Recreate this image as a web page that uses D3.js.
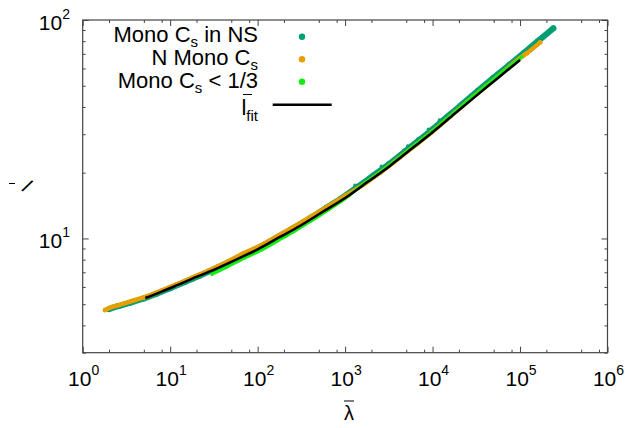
<!DOCTYPE html>
<html>
<head>
<meta charset="utf-8">
<script src="https://cdn.jsdelivr.net/npm/d3@7"></script>
<style>
  body { margin: 0; background: #fff; }
  text { font-family: "Liberation Sans", Arial, sans-serif; fill: #000; }
</style>
</head>
<body>
<svg width="628" height="428"></svg>
<script>
// values: [lambda, l]
const monoNS = [
  [2.0, 4.75], [2.6, 4.91], [3.5, 5.08], [5, 5.31], [7, 5.59], [10, 5.92],
  [15, 6.34], [22, 6.77], [35, 7.36], [50, 7.89], [75, 8.53], [110, 9.21],
  [170, 10.16], [260, 11.19], [400, 12.41], [600, 13.75], [900, 15.24],
  [1400, 17.27], [2100, 19.41], [3200, 21.97], [4800, 25.0], [7000, 28.2],
  [10000, 31.6], [15000, 36.3], [22000, 41.3], [33000, 47.4], [50000, 54.5],
  [75000, 62.2], [110000, 70.6], [160000, 80.0], [240000, 91.6]
];
const monoNSOutliers = [[1300, 17.5], [2600, 21.4], [4300, 23.4], [5200, 26.5], [9000, 31.6], [12000, 34.8]];
const nMono = [
  [1.8, 4.7], [2.1, 4.84], [2.5, 4.94], [3, 5.05], [4, 5.23], [5.5, 5.45],
  [8, 5.78], [12, 6.18], [18, 6.63], [28, 7.15], [45, 7.82], [70, 8.57],
  [110, 9.32], [170, 10.28], [260, 11.32], [400, 12.56], [650, 14.1], [1000, 15.67],
  [1600, 17.57], [2500, 19.97], [4000, 23.1], [6500, 26.9], [10000, 30.9],
  [16000, 36.3], [25000, 42.3], [40000, 49.5], [65000, 58.1], [100000, 67.0],
  [120000, 70.5], [170000, 79]
];
const monoLow = [
  [30, 6.85], [45, 7.41], [70, 8.11], [110, 8.83], [170, 9.75], [260, 10.75],
  [400, 11.95], [650, 13.55], [1000, 15.2], [1600, 17.66], [2500, 20.07],
  [4000, 23.2], [6500, 27.1], [10000, 31.1], [16000, 36.5], [25000, 42.5],
  [40000, 49.8], [65000, 58.4], [105000, 67.8]
];
const fit = [
  [5.2, 5.34], [8, 5.71], [12, 6.11], [20, 6.67], [35, 7.31], [60, 8.09],
  [100, 8.91], [180, 10.16], [300, 11.37], [550, 13.21], [1000, 15.31],
  [1800, 18.12], [3200, 21.37], [6000, 26.06], [10000, 30.61], [18000, 37.3],
  [32000, 45.2], [56000, 54.3], [100000, 65.6]
];
const xMajor = [1, 10, 100, 1000, 10000, 100000, 1000000];
const xMinorMult = [2, 5, 8];
const yMajor = [10, 100];
const yMinor = [3, 4, 5, 6, 7, 8, 9, 20, 30, 40, 50, 60, 70, 80, 90];

const colors = { ns: "#009e73", n: "#e69f00", low: "#14ec14" };

const width = 628;
const height = 428;
const margin = { top: 20, right: 20.5, bottom: 75.3, left: 82.7 };

const svg = d3.select("svg");
const x = d3.scaleLog().domain([1, 1e6]).range([margin.left, width - margin.right]);
const y = d3.scaleLog().domain([3, 100]).range([height - margin.bottom, margin.top]);

const xMinor = [];
xMajor.slice(0, -1).forEach((d) => xMinorMult.forEach((m) => xMinor.push(d * m)));

// ticks, pointing inward on all four sides
function ticks(axis, values, size, tr) {
  svg.append("g")
    .attr("transform", tr)
    .call(axis.tickValues(values).tickSizeInner(size).tickSizeOuter(0).tickFormat(""))
    .call((g) => g.select(".domain").remove())
    .call((g) => g.selectAll("line").attr("stroke", "#444").attr("stroke-width", 1));
}
const bottom = height - margin.bottom;
ticks(d3.axisTop(x), xMajor, 6, `translate(0,${bottom})`);
ticks(d3.axisTop(x), xMinor, 3, `translate(0,${bottom})`);
ticks(d3.axisBottom(x), xMajor, 6, `translate(0,${margin.top})`);
ticks(d3.axisBottom(x), xMinor, 3, `translate(0,${margin.top})`);
ticks(d3.axisRight(y), yMajor, 6, `translate(${margin.left},0)`);
ticks(d3.axisRight(y), yMinor, 3, `translate(${margin.left},0)`);
ticks(d3.axisLeft(y), yMajor, 6, `translate(${width - margin.right},0)`);
ticks(d3.axisLeft(y), yMinor, 3, `translate(${width - margin.right},0)`);

// tick labels 10^n
function powLabel(sel, d) {
  const e = Math.round(Math.log10(d));
  sel.append("tspan").text("10");
  sel.append("tspan").attr("font-size", 14).attr("dy", -11).text(e);
}
xMajor.forEach((d) => {
  svg.append("text")
    .attr("x", x(d) + 1)
    .attr("y", bottom + 33)
    .attr("text-anchor", "middle")
    .attr("font-size", 21)
    .call(powLabel, d);
});
yMajor.forEach((d) => {
  svg.append("text")
    .attr("x", 70)
    .attr("y", y(d) + 10)
    .attr("text-anchor", "end")
    .attr("font-size", 21)
    .call(powLabel, d);
});

// axis titles
svg.append("text")
  .attr("x", 349)
  .attr("y", 420)
  .attr("text-anchor", "middle")
  .attr("font-size", 20)
  .text("λ");
svg.append("line")
  .attr("x1", 344).attr("x2", 354)
  .attr("y1", 401).attr("y2", 401)
  .attr("stroke", "#000").attr("stroke-width", 1);

svg.append("text")
  .attr("x", 24)
  .attr("y", 193)
  .attr("font-size", 20)
  .attr("font-style", "italic")
  .attr("transform", "rotate(35,27,187)")
  .text("l");
svg.append("line")
  .attr("x1", 9).attr("x2", 15)
  .attr("y1", 183.5).attr("y2", 183.5)
  .attr("stroke", "#000").attr("stroke-width", 1);

// data
const line = d3.line()
  .x((d) => x(d[0]))
  .y((d) => y(d[1]))
  .curve(d3.curveCatmullRom);

const plot = svg.append("g");
function series(data, color, w) {
  plot.append("path")
    .datum(data)
    .attr("fill", "none")
    .attr("stroke", color)
    .attr("stroke-width", w)
    .attr("stroke-linecap", "round")
    .attr("d", line);
  plot.selectAll(null)
    .data(data)
    .enter()
    .append("circle")
    .attr("cx", (d) => x(d[0]))
    .attr("cy", (d) => y(d[1]))
    .attr("r", w / 2)
    .attr("fill", color);
}
series(monoNS, colors.ns, 6);
plot.selectAll(null)
  .data(monoNSOutliers)
  .enter()
  .append("circle")
  .attr("cx", (d) => x(d[0]))
  .attr("cy", (d) => y(d[1]))
  .attr("r", 1.8)
  .attr("fill", colors.ns);
series(nMono, colors.n, 4.5);
series(monoLow, colors.low, 3);

plot.append("path")
  .datum(fit)
  .attr("fill", "none")
  .attr("stroke", "#000")
  .attr("stroke-width", 2.5)
  .attr("d", line);

// border
svg.append("rect")
  .attr("x", margin.left)
  .attr("y", margin.top)
  .attr("width", width - margin.left - margin.right)
  .attr("height", height - margin.top - margin.bottom)
  .attr("fill", "none")
  .attr("stroke", "#444")
  .attr("stroke-width", 1.2);

// legend
const legend = svg.append("g");
const legendX = 258;
function legendText(yPos, parts) {
  const t = legend.append("text")
    .attr("x", legendX)
    .attr("y", yPos + 7)
    .attr("text-anchor", "end")
    .attr("font-size", 22);
  let shifted = false;
  parts.forEach((p) => {
    if (p.sub) {
      t.append("tspan").attr("font-size", 15).attr("dy", 5).text(p.sub);
      shifted = true;
    } else {
      t.append("tspan").attr("dy", shifted ? -5 : 0).text(p.t);
      shifted = false;
    }
  });
}
legendText(35, [{ t: "Mono C" }, { sub: "s" }, { t: " in NS" }]);
legendText(58, [{ t: "N Mono C" }, { sub: "s" }]);
legendText(81, [{ t: "Mono C" }, { sub: "s" }, { t: " < 1/3" }]);
[[36.7, colors.ns], [59.3, colors.n], [81.7, colors.low]].forEach(([cy, c]) => {
  legend.append("circle").attr("cx", 302).attr("cy", cy).attr("r", 3.2).attr("fill", c);
});
const fitLabel = legend.append("text")
  .attr("x", legendX)
  .attr("y", 115)
  .attr("text-anchor", "end")
  .attr("font-size", 22);
fitLabel.append("tspan").text("l");
fitLabel.append("tspan").attr("font-size", 15).attr("dy", 6).text("fit");
legend.append("line")
  .attr("x1", 243).attr("x2", 252)
  .attr("y1", 94.5).attr("y2", 94.5)
  .attr("stroke", "#000").attr("stroke-width", 1);
legend.append("line")
  .attr("x1", 272.7).attr("x2", 331.7)
  .attr("y1", 104.7).attr("y2", 104.7)
  .attr("stroke", "#000").attr("stroke-width", 2.5);
</script>
</body>
</html>
